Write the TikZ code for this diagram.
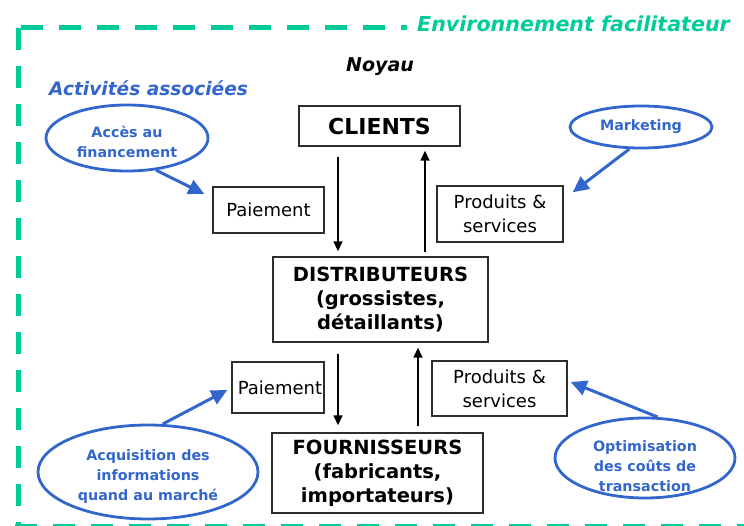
\documentclass[tikz,border=0pt]{standalone}
\usepackage{fontspec}
\setmainfont{DejaVu Sans}[BoldFont={DejaVu Sans Bold},ItalicFont={DejaVu Sans Oblique},BoldItalicFont={DejaVu Sans Bold Oblique}]
\usetikzlibrary{arrows.meta,shapes.geometric,calc}
\definecolor{envgreen}{RGB}{0,204,153}
\definecolor{actblue}{RGB}{51,102,204}
\definecolor{boxline}{RGB}{45,45,45}
\begin{document}
\begin{tikzpicture}[x=1pt,y=-1pt,
  box/.style={draw=boxline, line width=1.4pt, inner sep=0pt, align=center},
  plain/.style={font=\fontsize{18}{24}\selectfont},
  core/.style={font=\bfseries\fontsize{19.5}{24}\selectfont},
  flow/.style={line width=1.5pt, -{Triangle[length=10pt,width=9pt]}},
  bubble/.style={draw=actblue, line width=2.8pt, ellipse, inner sep=0pt},
  hint/.style={draw=actblue, fill=actblue, line width=3pt, -{Triangle[length=16pt,width=15pt]}},
  bluetxt/.style={text=actblue, font=\bfseries\fontsize{14.3}{20}\selectfont, align=center, inner sep=0pt},
  frame/.style={draw=envgreen, line width=5pt, dash pattern=on 22pt off 16pt},
]
\useasboundingbox (0,0) rectangle (744,526);

% dashed outline of the enabling environment
\draw[frame] (18,28) -- (18,530);
\draw[frame] (21,28) -- (407,28);
\draw[frame] (15,526) -- (744,526);

% headings
\node[anchor=base west, inner sep=0pt, text=envgreen, font=\bfseries\itshape\fontsize{20.6}{24}\selectfont] (env) at (417,32) {Environnement facilitateur};
\node[inner sep=0pt, font=\bfseries\itshape\fontsize{19}{22}\selectfont] (noyau) at (380,67) {Noyau};
\node[anchor=west, inner sep=0pt, text=actblue, font=\bfseries\itshape\fontsize{18.6}{22}\selectfont] (act) at (49,88) {Activités associées};

% core chain
\node[box, minimum width=161pt, minimum height=40pt, font=\bfseries\fontsize{22}{26}\selectfont] (clients) at (379.5,126) {CLIENTS};
\node[box, plain, minimum width=111pt, minimum height=46pt] (pay1) at (268.5,210) {Paiement};
\node[box, plain, minimum width=126pt, minimum height=56pt] (prod1) at (500,214) {Produits \&\\services};
\node[box, core, minimum width=215pt, minimum height=85pt] (distrib) at (380.5,299.5) {DISTRIBUTEURS\\(grossistes,\\détaillants)};
\node[box, plain, minimum width=92pt, minimum height=51pt] (pay2) at (278,387.5) {\hspace*{4pt}Paiement};
\node[box, plain, minimum width=135pt, minimum height=55pt] (prod2) at (499.5,388.5) {Produits \&\\services};
\node[box, core, minimum width=211pt, minimum height=80pt] (fourn) at (377.5,473) {FOURNISSEURS\\(fabricants,\\importateurs)};

% flows between the levels
\coordinate (xa) at (338,0);
\coordinate (xb) at (425,0);
\coordinate (xc) at (418,0);
\draw[flow, shorten <=10pt, shorten >=5pt] (clients.south -| xa) -- (distrib.north -| xa);
\draw[flow, shorten <=4pt, shorten >=4pt] (distrib.north -| xb) -- (clients.south -| xb);
\draw[flow, shorten <=11pt, shorten >=7pt] (distrib.south -| xa) -- (fourn.north -| xa);
\draw[flow, shorten <=6pt, shorten >=5pt] (fourn.north -| xc) -- (distrib.south -| xc);

% associated activities
\node[bubble, minimum width=162pt, minimum height=66pt] (acc) at (127,138) {};
\node[bluetxt] (acc-t) at (127,142) {Accès au\\financement};
\node[bubble, minimum width=142pt, minimum height=42pt] (mkt) at (641,127) {};
\node[bluetxt] (mkt-t) at (641,127) {Marketing};
\node[bubble, minimum width=220pt, minimum height=94pt] (acq) at (148,472) {};
\node[bluetxt] (acq-t) at (148,477) {Acquisition des\\informations\\quand au marché};
\node[bubble, minimum width=180pt, minimum height=80pt] (opt) at (645,458) {};
\node[bluetxt] (opt-t) at (645,466) {Optimisation\\des coûts de\\transaction};

\draw[hint] (acc.-48) -- ($(pay1.west)+(-8,-16)$);
\draw[hint] (mkt.-118) -- ($(prod1.north east)+(9,7)$);
\draw[hint] (acq.73) -- ($(pay2.west)+(-4,2.5)$);
\draw[hint] (opt.73) -- ($(prod2.east)+(3,-6.5)$);
\end{tikzpicture}
\end{document}
